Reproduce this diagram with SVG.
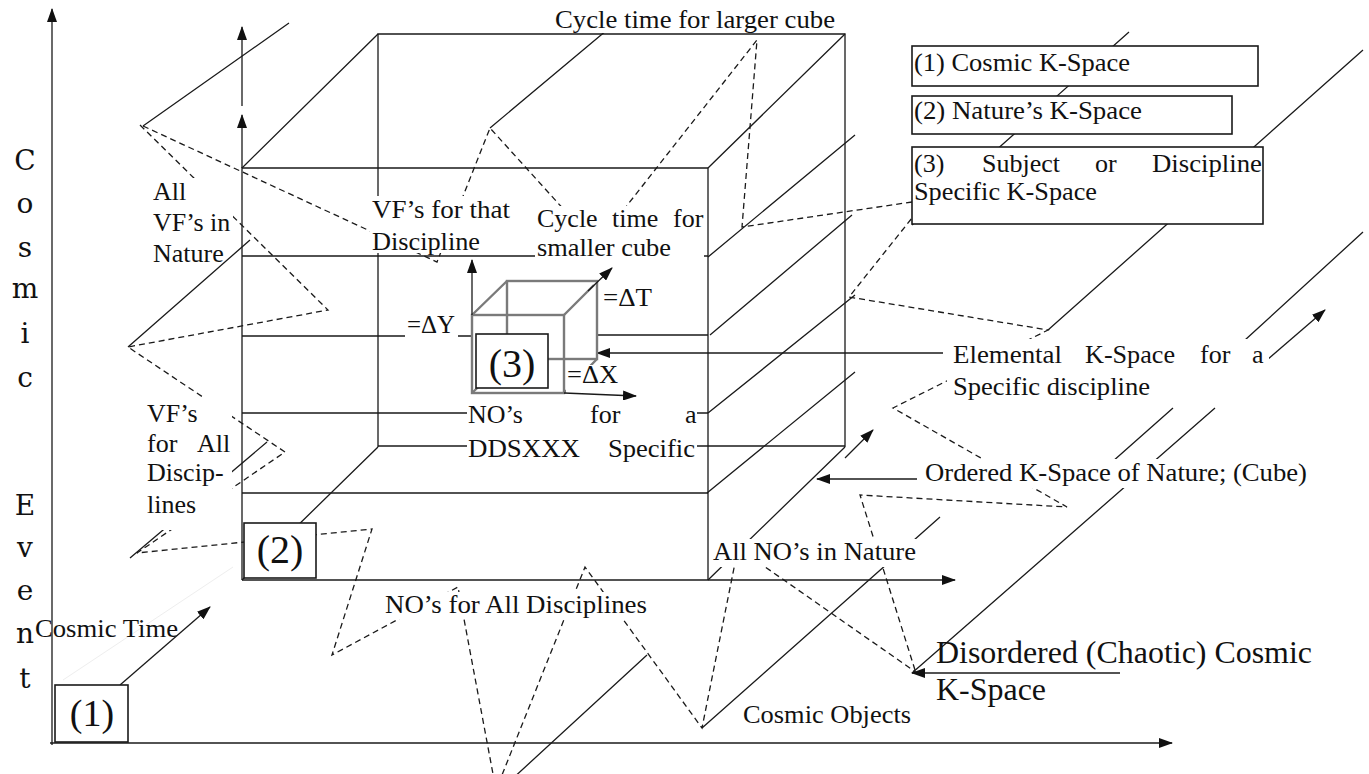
<svg xmlns="http://www.w3.org/2000/svg" width="1369" height="774" viewBox="0 0 1369 774">
<style>
.ln{stroke:#1a1a1a;stroke-width:1.3;fill:none}
.ds{stroke:#1a1a1a;stroke-width:1.3;fill:none;stroke-dasharray:6 4}
.gr{stroke:#7a7a7a;stroke-width:2.4;fill:none}
.t{font-family:"Liberation Serif","Times New Roman",Tinos,"DejaVu Serif",serif;font-size:26px;fill:#111}
.big{font-size:40px}
.bg{fill:#fff;stroke:none}
.bx{fill:#fff;stroke:#1a1a1a;stroke-width:1.6}
</style>
<defs>
<marker id="ah" viewBox="0 0 14 10" refX="13" refY="5" markerWidth="14" markerHeight="10" markerUnits="userSpaceOnUse" orient="auto"><path d="M0,0 L14,5 L0,10 z" fill="#111"/></marker>
</defs>
<rect width="1369" height="774" fill="#fff"/>
<g id="connectors">
<path class="ln" d="M52,745 V9" marker-end="url(#ah)"/>
<path class="ln" d="M50,743 H1172" marker-end="url(#ah)"/>
<path d="M63,680 L233,567" stroke="#eee" stroke-width="1"/>
<path class="ln" d="M378,447 V34 H845 V447"/>
<path class="ln" d="M378,446 H845"/>
<path class="ln" d="M242,580 V168 H708 V580"/>
<path class="ln" d="M242,580 H955" marker-end="url(#ah)"/>
<path class="ln" d="M242,168 V115" marker-end="url(#ah)"/>
<path class="ln" d="M242,106 V27" marker-end="url(#ah)"/>
<path class="ln" d="M242,168 L378,34 M708,168 L845,34 M242,580 L378,447 M845,447 L708,580"/>
<path class="ln" d="M242,256 H708 M242,336 H472 M597,335 H708 M242,413 H708 M242,493 H708"/>
<path class="ln" d="M708,257 L855,135 M710,335 L852,215 M708,413 L855,295 M707,493 L855,372"/>
<path class="ln" d="M289,23 L143,126 M128,347 L250,240 M267,442 L130,558 M607,30 L490,128"/>
<path class="ln" d="M1129,32 L912,225 M1363,50 L1048,330 M1363,232 L1245,340 M1173,408 L1112,462 M1215,408 L912,673 M702,728 L940,517 M510,781 L647,655"/>
<path class="ds" d="M143,126 L437,262 L490,128 L596,245 L757,40 L742,227 L912,202"/>
<path class="ds" d="M140,125 L328,310 L128,347 L285,452 L137,553 L372,529 L332,655 L458,587 L496,790 L585,567 L702,728 L738,548 L917,673"/>
<path class="ds" d="M915,670 L860,495 L1067,507 L893,408 L1048,330 L849,297 L912,218"/>
<path class="ln" d="M943,353 H597" marker-end="url(#ah)"/>
<path class="ln" d="M917,479 H817" marker-end="url(#ah)"/>
<path class="ln" d="M1120,673 H912" marker-end="url(#ah)"/>
<path class="ln" d="M845,458 L873,430" marker-end="url(#ah)"/>
<path class="ln" d="M1267,360 L1325,310" marker-end="url(#ah)"/>
<path class="ln" d="M120,685 L210,607" marker-end="url(#ah)"/>
<rect class="gr" x="507" y="281" width="90" height="78"/>
<rect class="gr" x="472" y="315" width="92" height="78"/>
<path class="gr" d="M472,315 L507,281 M564,393 L597,359 M472,393 L507,359 M564,315 L594,285"/>
<path class="ln" d="M588,291 L612,268" marker-end="url(#ah)"/>
<path class="ln" d="M472,315 V260" marker-end="url(#ah)"/>
<path class="ln" d="M564,393 L636,396" marker-end="url(#ah)"/>
<path d="M583,458 H606" stroke="#9aa6e0" stroke-width="1" stroke-dasharray="1 2"/>
</g>
<g id="axis-title">
<text font-family="DejaVu Serif, serif" font-size="28" fill="#111" text-anchor="middle"><tspan x="25" y="170">C</tspan><tspan x="25" y="213">o</tspan><tspan x="25" y="257">s</tspan><tspan x="25" y="298">m</tspan><tspan x="25" y="343">i</tspan><tspan x="25" y="387">c</tspan><tspan x="25" y="515">E</tspan><tspan x="25" y="557">v</tspan><tspan x="25" y="600">e</tspan><tspan x="25" y="643">n</tspan><tspan x="25" y="688">t</tspan></text>
</g>
<g id="label-larger-cube">
<rect class="bg" x="553" y="8" width="285" height="25"/>
<text class="t" x="555" y="28" textLength="280" lengthAdjust="spacingAndGlyphs">Cycle time for larger cube</text>
</g>
<g id="legend-1">
<rect class="bx" x="912" y="46" width="346" height="40"/>
<text class="t" x="914" y="71" textLength="216" lengthAdjust="spacingAndGlyphs">(1) Cosmic K-Space</text>
</g>
<g id="legend-2">
<rect class="bx" x="912" y="96" width="320" height="38"/>
<text class="t" x="914" y="119" textLength="228" lengthAdjust="spacingAndGlyphs">(2) Nature’s K-Space</text>
</g>
<g id="legend-3">
<rect class="bx" x="912" y="147" width="351" height="77"/>
<text class="t" x="914" y="172">(3)</text>
<text class="t" x="982" y="172">Subject</text>
<text class="t" x="1095" y="172">or</text>
<text class="t" x="1152" y="172" textLength="110" lengthAdjust="spacingAndGlyphs">Discipline</text>
<text class="t" x="914" y="200" textLength="183" lengthAdjust="spacingAndGlyphs">Specific K-Space</text>
</g>
<g id="label-all-vf">
<rect class="bg" x="150" y="178" width="83" height="60"/>
<text class="t"><tspan x="153" y="200">All</tspan><tspan x="153" y="231">VF’s in</tspan><tspan x="153" y="262">Nature</tspan></text>
</g>
<g id="label-vf-discipline">
<rect class="bg" x="370" y="196" width="142" height="57"/>
<text class="t" x="372" y="218" textLength="138" lengthAdjust="spacingAndGlyphs">VF’s for that</text>
<text class="t" x="372" y="250" textLength="108" lengthAdjust="spacingAndGlyphs">Discipline</text>
</g>
<g id="label-smaller-cube">
<rect class="bg" x="535" y="206" width="169" height="54"/>
<text class="t" x="537" y="227">Cycle</text>
<text class="t" x="612" y="227">time</text>
<text class="t" x="673" y="227">for</text>
<text class="t" x="537" y="256" textLength="134" lengthAdjust="spacingAndGlyphs">smaller cube</text>
</g>
<g id="label-dy">
<rect class="bg" x="405" y="316" width="53" height="25"/>
<text class="t" x="407" y="333" textLength="48" lengthAdjust="spacingAndGlyphs">=ΔY</text>
</g>
<g id="label-dt">
<text class="t" x="603" y="306" textLength="49" lengthAdjust="spacingAndGlyphs">=ΔT</text>
</g>
<g id="label-dx">
<rect class="bg" x="566" y="365" width="54" height="27"/>
<text class="t" x="567" y="383" textLength="51" lengthAdjust="spacingAndGlyphs">=ΔX</text>
</g>
<g id="node-3">
<rect class="bx" x="476" y="334" width="72" height="54"/>
<text class="t big" x="512" y="377" text-anchor="middle">(3)</text>
</g>
<g id="label-nos-specific">
<rect class="bg" x="467" y="400" width="230" height="62"/>
<text class="t" x="468" y="423">NO’s</text>
<text class="t" x="590" y="423">for</text>
<text class="t" x="685" y="423">a</text>
<text class="t" x="468" y="457" textLength="112" lengthAdjust="spacingAndGlyphs">DDSXXX</text>
<text class="t" x="608" y="457" textLength="87" lengthAdjust="spacingAndGlyphs">Specific</text>
</g>
<g id="label-vf-all">
<rect class="bg" x="145" y="398" width="87" height="132"/>
<text class="t" x="147" y="422">VF’s</text>
<text class="t" x="147" y="452">for</text>
<text class="t" x="197" y="452">All</text>
<text class="t" x="147" y="481">Discip-</text>
<text class="t" x="147" y="513">lines</text>
</g>
<g id="node-2">
<rect class="bx" x="244" y="523" width="72" height="55"/>
<text class="t big" x="280" y="563" text-anchor="middle">(2)</text>
</g>
<g id="node-1">
<rect class="bx" x="55" y="685" width="73" height="57"/>
<text class="t" x="92" y="726" text-anchor="middle" style="font-size:38px">(1)</text>
</g>
<g id="label-elemental">
<rect class="bg" x="947" y="339" width="322" height="62"/>
<text class="t" x="953" y="363" textLength="109" lengthAdjust="spacingAndGlyphs">Elemental</text>
<text class="t" x="1085" y="363" textLength="90" lengthAdjust="spacingAndGlyphs">K-Space</text>
<text class="t" x="1200" y="363">for</text>
<text class="t" x="1252" y="363">a</text>
<text class="t" x="953" y="395" textLength="197" lengthAdjust="spacingAndGlyphs">Specific discipline</text>
</g>
<g id="label-ordered">
<rect class="bg" x="921" y="459" width="385" height="29"/>
<text class="t" x="925" y="481" textLength="382" lengthAdjust="spacingAndGlyphs">Ordered K-Space of Nature; (Cube)</text>
</g>
<g id="label-all-nos">
<rect class="bg" x="711" y="539" width="207" height="28"/>
<text class="t" x="713" y="560" textLength="203" lengthAdjust="spacingAndGlyphs">All NO’s in Nature</text>
</g>
<g id="label-nos-all">
<rect class="bg" x="383" y="592" width="267" height="27"/>
<text class="t" x="385" y="613" textLength="262" lengthAdjust="spacingAndGlyphs">NO’s for All Disciplines</text>
</g>
<g id="label-cosmic-time">
<text class="t" x="35" y="637" textLength="143" lengthAdjust="spacingAndGlyphs">Cosmic Time</text>
</g>
<g id="label-cosmic-objects">
<text class="t" x="743" y="723" textLength="168" lengthAdjust="spacingAndGlyphs">Cosmic Objects</text>
</g>
<g id="label-disordered">
<text class="t" style="font-size:31px" x="936" y="663" textLength="376" lengthAdjust="spacingAndGlyphs">Disordered (Chaotic) Cosmic</text>
<text class="t" style="font-size:31px" x="936" y="700" textLength="110" lengthAdjust="spacingAndGlyphs">K-Space</text>
</g>
</svg>
